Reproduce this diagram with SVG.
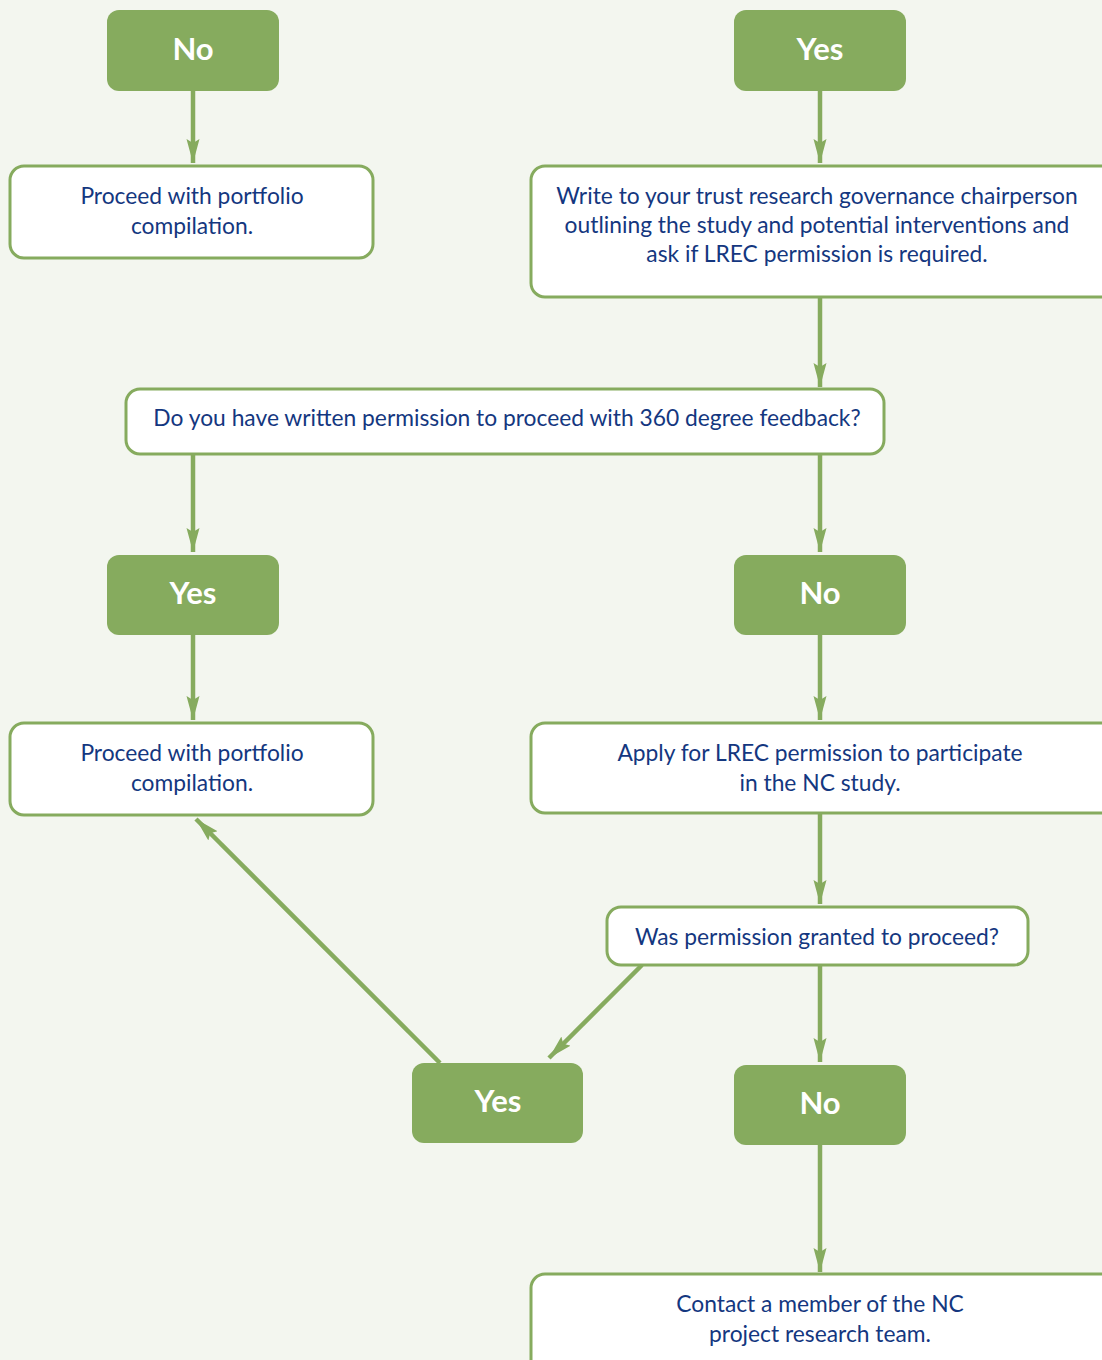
<svg xmlns="http://www.w3.org/2000/svg" width="1102" height="1360" viewBox="0 0 1102 1360">
  <defs>
    <marker id="arrow" markerUnits="userSpaceOnUse" markerWidth="26" markerHeight="16" refX="24" refY="7" orient="auto">
      <path d="M0,0.5 L24,7 L0,13.5 L4,7 Z" fill="#86ab5e"/>
    </marker>
    <style>
      .bg { fill: #f3f6ef; }
      .answer rect { fill: #86ab5e; }
      .answer text { fill: #ffffff; font-family: "Lato", "Liberation Sans", sans-serif; font-weight: 700; font-size: 31px; text-anchor: middle; }
      .step rect { fill: #ffffff; stroke: #86ab5e; stroke-width: 3; }
      .step text { fill: #14377f; font-family: "Lato", "Liberation Sans", sans-serif; font-size: 22.8px; text-anchor: middle; }
      .links path { fill: none; stroke: #86ab5e; stroke-width: 4.5; marker-end: url(#arrow); }
    </style>
  </defs>

  <rect class="bg" x="0" y="0" width="1102" height="1360"/>

  <!-- connectors -->
  <g class="links" id="connectors">
    <path d="M193,91 V163"/>
    <path d="M820,91 V163"/>
    <path d="M820,297 V387"/>
    <path d="M193,454 V552"/>
    <path d="M820,454 V552"/>
    <path d="M193,635 V720"/>
    <path d="M820,635 V720"/>
    <path d="M820,813 V904"/>
    <path d="M642,965 L549,1058"/>
    <path d="M440,1063 L196,819"/>
    <path d="M820,965 V1062"/>
    <path d="M820,1145 V1272"/>
  </g>

  <!-- first row -->
  <g class="answer" id="no-top">
    <rect x="107" y="10" width="172" height="81" rx="12"/>
    <text x="193" y="60">No</text>
  </g>
  <g class="answer" id="yes-top">
    <rect x="734" y="10" width="172" height="81" rx="12"/>
    <text x="820" y="60">Yes</text>
  </g>

  <g class="step" id="proceed-1">
    <rect x="10" y="166" width="363" height="92" rx="14"/>
    <text x="192" y="204">Proceed with portfolio</text>
    <text x="192" y="234">compilation.</text>
  </g>
  <g class="step" id="write-chair">
    <rect x="531" y="166" width="600" height="131" rx="14"/>
    <text x="817" y="204">Write to your trust research governance chairperson</text>
    <text x="817" y="233">outlining the study and potential interventions and</text>
    <text x="817" y="262">ask if LREC permission is required.</text>
  </g>

  <!-- first question -->
  <g class="step" id="q-permission">
    <rect x="126" y="389" width="758" height="65" rx="14"/>
    <text x="507" y="426">Do you have written permission to proceed with 360 degree feedback?</text>
  </g>

  <g class="answer" id="yes-mid">
    <rect x="107" y="555" width="172" height="80" rx="12"/>
    <text x="193" y="604">Yes</text>
  </g>
  <g class="answer" id="no-mid">
    <rect x="734" y="555" width="172" height="80" rx="12"/>
    <text x="820" y="604">No</text>
  </g>

  <g class="step" id="proceed-2">
    <rect x="10" y="723" width="363" height="92" rx="14"/>
    <text x="192" y="761">Proceed with portfolio</text>
    <text x="192" y="791">compilation.</text>
  </g>
  <g class="step" id="apply-lrec">
    <rect x="531" y="723" width="600" height="90" rx="14"/>
    <text x="820" y="761">Apply for LREC permission to participate</text>
    <text x="820" y="791">in the NC study.</text>
  </g>

  <!-- second question -->
  <g class="step" id="q-granted">
    <rect x="607" y="907" width="421" height="58" rx="14"/>
    <text x="817" y="945">Was permission granted to proceed?</text>
  </g>

  <g class="answer" id="yes-bottom">
    <rect x="412" y="1063" width="171" height="80" rx="12"/>
    <text x="498" y="1112">Yes</text>
  </g>
  <g class="answer" id="no-bottom">
    <rect x="734" y="1065" width="172" height="80" rx="12"/>
    <text x="820" y="1114">No</text>
  </g>

  <g class="step" id="contact-team">
    <rect x="531" y="1274" width="600" height="120" rx="14"/>
    <text x="820" y="1312">Contact a member of the NC</text>
    <text x="820" y="1342">project research team.</text>
  </g>
</svg>
